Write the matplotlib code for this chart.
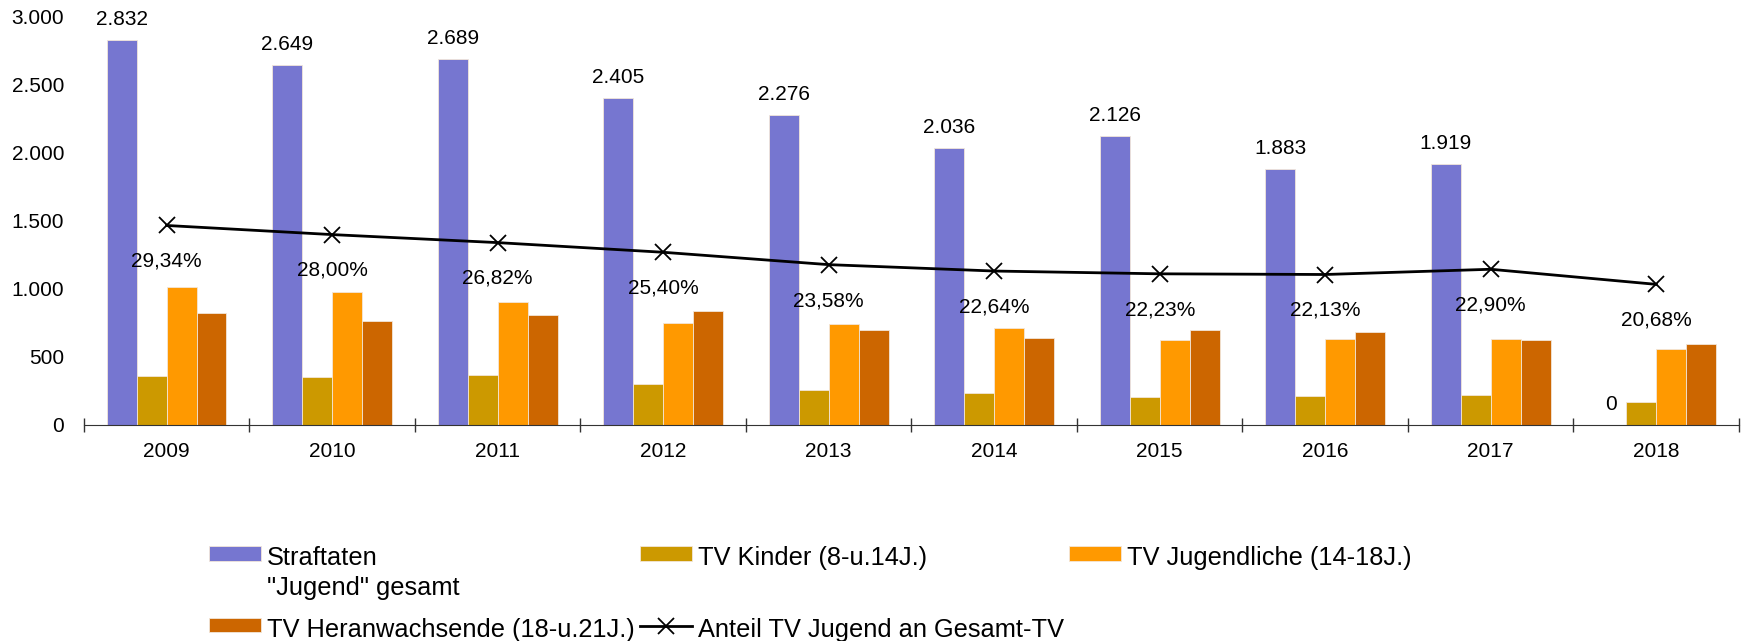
import matplotlib
matplotlib.use("Agg")
from matplotlib import pyplot as plt
import numpy as np

plt.rcParams['font.family'] = ['Liberation Sans', 'DejaVu Sans']

jahre = ['2009', '2010', '2011', '2012', '2013', '2014', '2015', '2016', '2017', '2018']
straftaten = [2832, 2649, 2689, 2405, 2276, 2036, 2126, 1883, 1919, 0]
tv_kinder = [360, 355, 364, 304, 257, 237, 208, 213, 220, 171]
tv_jugendliche = [1012, 978, 902, 752, 742, 711, 625, 632, 630, 559]
tv_heranw = [821, 764, 808, 838, 701, 637, 700, 686, 622, 598]
anteil = [29.34, 28.00, 26.82, 25.40, 23.58, 22.64, 22.23, 22.13, 22.90, 20.68]

namen = ['Straftaten\n"Jugend" gesamt', 'TV Kinder (8-u.14J.)',
         'TV Jugendliche (14-18J.)', 'TV Heranwachsende (18-u.21J.)']
farben = ['#7676D0', '#CC9900', '#FF9900', '#CC6600']
linie_name = 'Anteil TV Jugend an Gesamt-TV'


def de(v):
    return f"{v:,}".replace(",", ".")


fig = plt.figure(figsize=(17.46, 6.41), dpi=100)
ax = fig.add_axes([0.048, 0.337, 0.948, 0.6365])

x = np.arange(len(jahre))
w = 0.181
serien = [straftaten, tv_kinder, tv_jugendliche, tv_heranw]
bars = []
for i, (s, f, n) in enumerate(zip(serien, farben, namen)):
    b = ax.bar(x + (i - 1.5) * w, s, w, color=f, edgecolor='#F2E6D9',
               linewidth=0.6, label=n, zorder=2)
    bars.append(b)

# Werte ueber Straftaten
for xi, v in zip(x, straftaten):
    ax.annotate(de(v), (xi - 1.5 * w, v), xytext=(0, 8), textcoords='offset points',
                ha='center', va='bottom', fontsize=15, annotation_clip=False)

ax.set_xlim(-0.5, len(jahre) - 0.5)
ax.set_ylim(0, 3000)
ax.set_yticks(np.arange(0, 3001, 500))
ax.set_yticklabels([de(v) for v in range(0, 3001, 500)])
ax.set_xticks(x)
ax.set_xticklabels(jahre)
ax.set_xticks(np.arange(-0.5, len(jahre), 1), minor=True)
ax.tick_params(axis='x', which='major', length=0, labelsize=15, pad=12)
ax.tick_params(axis='x', which='minor', direction='inout', length=10, width=1, color='#333333')
ax.tick_params(axis='y', length=0, labelsize=15, pad=14)
for s in ['top', 'right', 'left']:
    ax.spines[s].set_visible(False)
ax.spines['bottom'].set_color('#333333')

ax2 = ax.twinx()
ax2.set_ylim(0, 60)
ln, = ax2.plot(x, anteil, color='black', lw=2, marker='x', ms=11, mew=1.3,
               label=linie_name, zorder=3)
for xi, v in zip(x, anteil):
    ax2.annotate(f"{v:.2f}%".replace(".", ","), (xi, v), xytext=(0, -19),
                 textcoords='offset points', ha='center', va='top', fontsize=15)
ax2.axis('off')

# erste Zeile zweizeilig, damit die Zeilen in allen Spalten gleich hoch sind
handles = [bars[0], bars[3], bars[1], ln, bars[2]]
labels = [namen[0], namen[3], namen[1] + '\n', linie_name, namen[2] + '\n']
leg = fig.legend(handles, labels, ncol=3, loc='upper left', bbox_to_anchor=(0.1197, 0.148),
                 borderaxespad=0, borderpad=0, frameon=False, fontsize=18.3,
                 handlelength=2.05, handleheight=0.5, handletextpad=0.22,
                 columnspacing=0.22, labelspacing=0.7)
for t in leg.get_texts():
    t.set_linespacing(1.3)
# Symbol an erster Zeile ausrichten
leg._legend_handle_box.align = 'top'
for col in leg._legend_handle_box.get_children():
    col.align = 'left'
    for item in col.get_children():
        item.align = 'top'

plt.savefig('out.png', dpi=100)
